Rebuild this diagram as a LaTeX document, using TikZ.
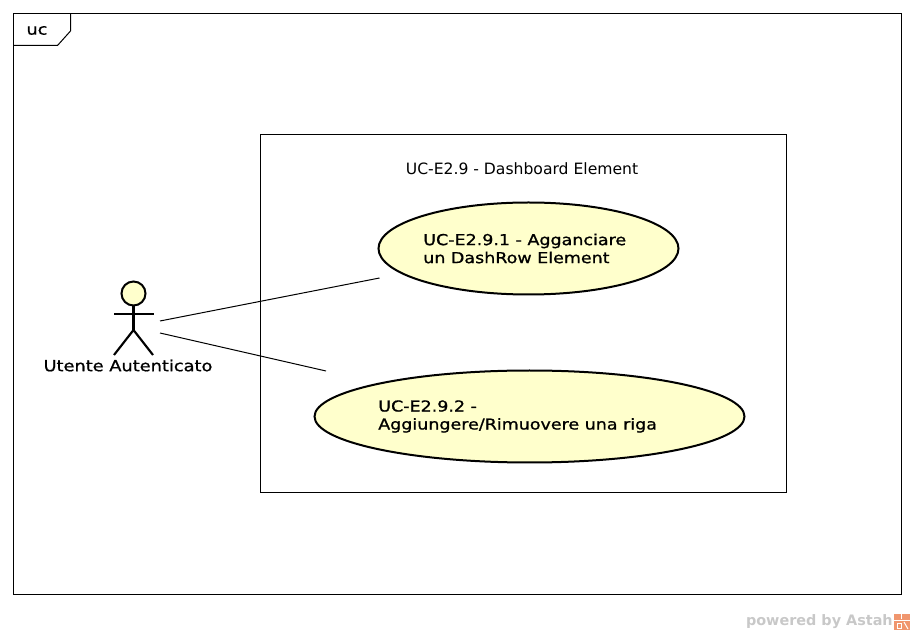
\documentclass[tikz,border=0pt]{standalone}
\usepackage{fontspec}
\setmainfont{DejaVu Sans}
\newfontfamily\ucfont[FakeBold=1,FakeStretch=1.16]{DejaVu Sans}
\usetikzlibrary{shapes.geometric}
\definecolor{ucfill}{RGB}{255,255,204}
\definecolor{astahgrey}{RGB}{200,200,200}
\definecolor{astahorange}{RGB}{240,150,110}
\tikzset{
	ucase/.style={draw,ellipse,fill=ucfill,line width=1.5pt,inner sep=0pt},
	uctext/.style={anchor=west,align=left,inner sep=0pt,font=\ucfont\fontsize{11.3}{13.5}\selectfont},
	limb/.style={line width=1.6pt},
	assoc/.style={line width=0.75pt}
}
\begin{document}
\begin{tikzpicture}[x=0.75pt,y=-0.75pt]
\useasboundingbox (0,0) rectangle (914,634);
%frame
\draw[line width=0.75pt](13.5,13.5) rectangle (901.5,594.5);
\draw[line width=0.75pt](13.5,45.5)--(57.5,45.5)--(70.5,31)--(70.5,13.5);
\node (framelabel) at (37,30.5){\ucfont\fontsize{11.4}{12}\selectfont uc};

%system boundary
\draw[line width=0.6pt](260.5,134.5) rectangle (786.5,492.5);
\node (systemlabel) at (522,169){\fontsize{11.7}{12}\selectfont UC-E2.9 - Dashboard Element};

%use cases
\node[ucase,minimum width=225pt,minimum height=69pt] (ucone) at (528.5,248.5){};
\node[uctext] (uconetext) at (423,248.5){UC-E2.9.1 - Agganciare\\un DashRow Element};
\node[ucase,minimum width=322.5pt,minimum height=69pt] (uctwo) at (529.5,416.5){};
\node[uctext] (uctwotext) at (378,416.5){UC-E2.9.2 -\\Aggiungere/Rimuovere una riga};

%actor
\node[draw,circle,fill=ucfill,line width=1.5pt,minimum size=18pt,inner sep=0pt] (head) at (133.5,293.5){};
\coordinate (hip) at (133.5,330);
\coordinate (armleft) at (114,314);
\coordinate (armright) at (154,314);
\coordinate (footleft) at (114,355);
\coordinate (footright) at (153,355);
\draw[limb](head)--(hip);
\draw[limb](armleft)--(armright);
\draw[limb](footleft)--(hip)--(footright);
\node (actorlabel) at (128,365.5){\ucfont\fontsize{11.5}{12}\selectfont Utente Autenticato};

%associations
\coordinate (assocone) at (160,321);
\coordinate (assoctwo) at (160,333);
\coordinate (endone) at (379.5,278);
\coordinate (endtwo) at (326,371);
\draw[assoc](assocone)--(endone);
\draw[assoc](assoctwo)--(endtwo);

%watermark
\node[text=astahgrey,anchor=east,inner sep=0pt] (powered) at (893,621.5){\fontsize{10.8}{12}\selectfont\bfseries powered by Astah};
\fill[astahorange](893.5,613.5) rectangle (909.5,629.5);
\draw[white,line width=0.75pt](901,613.5)--(901,619);
\draw[white,line width=0.75pt](893.5,620)--(909.5,620);
\draw[white,line width=0.75pt](897,623) rectangle (901,628);
\draw[white,line width=0.75pt](904,622)--(908,629);
\end{tikzpicture}
\end{document}
